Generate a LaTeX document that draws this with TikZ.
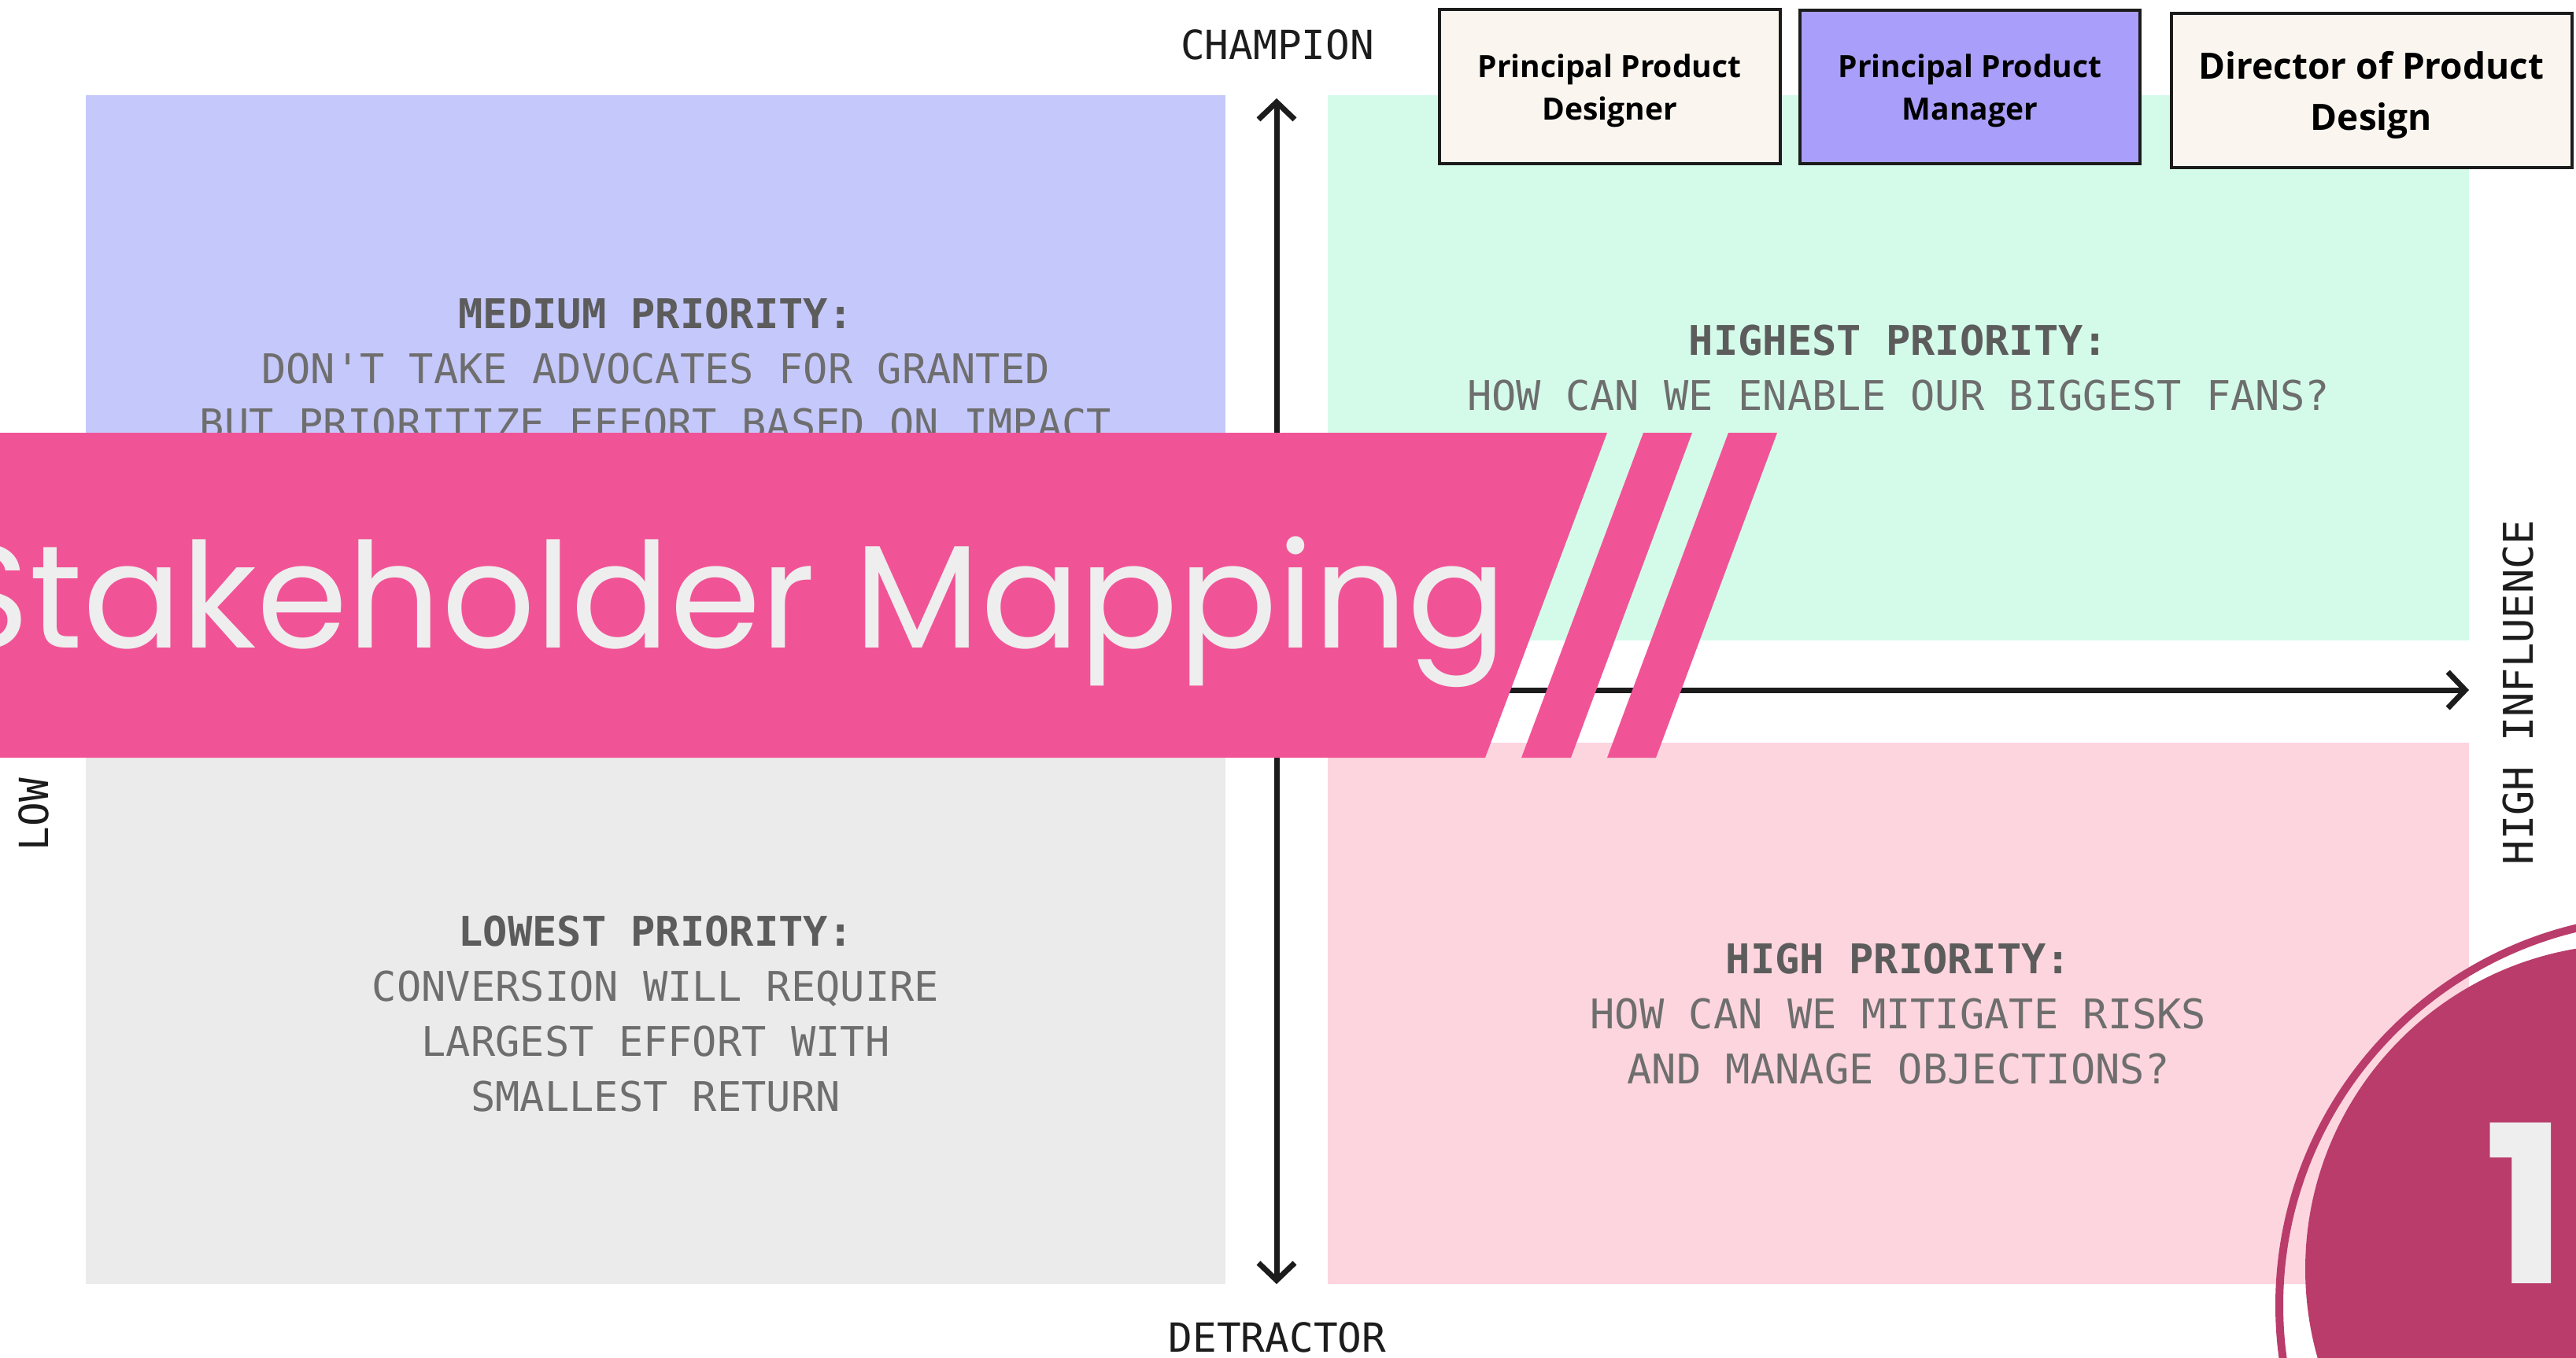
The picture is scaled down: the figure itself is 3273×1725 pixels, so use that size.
\documentclass[tikz,border=0pt]{standalone}
\usepackage{fontspec}
\setmainfont{DejaVu Sans}
\newfontfamily\monof{DejaVu Sans Mono}
\newfontfamily\titlef{Poppins}
\newfontfamily\boxf{Open Sans}
\usetikzlibrary{arrows.meta}
\definecolor{qblue}{HTML}{C5C8FA}
\definecolor{qgreen}{HTML}{D4FBEA}
\definecolor{qgrey}{HTML}{EBEBEB}
\definecolor{qpink}{HTML}{FDD5DE}
\definecolor{bannerpink}{HTML}{F15496}
\definecolor{titletext}{HTML}{EEEEEE}
\definecolor{circpink}{HTML}{B93C6B}
\definecolor{cream}{HTML}{FAF6EF}
\definecolor{lavender}{HTML}{A99EF9}
\definecolor{bodygray}{HTML}{6E6E6E}
\definecolor{headgray}{HTML}{5C5C5C}
\definecolor{inkdark}{HTML}{1C1C1C}
\begin{document}
\begin{tikzpicture}[x=1pt,y=-1pt,
  quadtext/.style={align=center, inner sep=0pt, text=bodygray,
    font=\monof\fontsize{52}{70}\selectfont},
  axislabel/.style={inner sep=0pt, text=inkdark,
    font=\monof\fontsize{51}{60}\selectfont},
  axisline/.style={line width=7pt, draw=inkdark,
    arrows={-Straight Barb[length=22pt,width=46pt]}},
  rolebox/.style={draw=inkdark, line width=4pt, inner sep=0pt},
  roletext/.style={align=center, inner sep=0pt, text=black},
]
\useasboundingbox (0,0) rectangle (3273,1725);
\clip (0,0) rectangle (3273,1725);
\fill[white] (0,0) rectangle (3273,1725);

% quadrants
\fill[qblue]  (109,121) rectangle (1557,814);
\fill[qgreen] (1687,121) rectangle (3137,814);
\fill[qgrey]  (109,944) rectangle (1557,1632);
\fill[qpink]  (1687,944) rectangle (3137,1632);

% axes
\coordinate (vtop) at (1622,125);
\coordinate (vbot) at (1622,1632);
\coordinate (hleft) at (109,877);
\coordinate (hright) at (3137,877);
\draw[axisline, arrows={Straight Barb[length=22pt,width=46pt]-Straight Barb[length=22pt,width=46pt]}] (vtop) -- (vbot);
\draw[axisline] (hleft) -- (hright);

% axis labels
\node[axislabel] (champ) at (1623,57) {CHAMPION};
\node[axislabel] (detr) at (1623,1700) {DETRACTOR};
\node[axislabel, rotate=90, font=\monof\fontsize{52}{60}\selectfont] (highinf) at (3200,880) {HIGH INFLUENCE};
\node[axislabel, rotate=90] (low) at (43,1035) {LOW};

% quadrant texts
\node[quadtext] (qmed) at (833,469)
  {{\bfseries\color{headgray}MEDIUM PRIORITY:}\\DON\textquotesingle T TAKE ADVOCATES FOR GRANTED\\BUT PRIORITIZE EFFORT BASED ON IMPACT};
\node[quadtext] (qhighest) at (2412,468)
  {{\bfseries\color{headgray}HIGHEST PRIORITY:}\\HOW CAN WE ENABLE OUR BIGGEST FANS?};
\node[quadtext] (qlowest) at (833,1289)
  {{\bfseries\color{headgray}LOWEST PRIORITY:}\\CONVERSION WILL REQUIRE\\LARGEST EFFORT WITH\\SMALLEST RETURN};
\node[quadtext] (qhigh) at (2412,1289)
  {{\bfseries\color{headgray}HIGH PRIORITY:}\\HOW CAN WE MITIGATE RISKS\\AND MANAGE OBJECTIONS?};

% banner
\fill[bannerpink] (0,550) -- (2042,550) -- (1887,963) -- (0,963) -- cycle;
\fill[bannerpink] (2088,550) -- (2150,550) -- (1996,963) -- (1933,963) -- cycle;
\fill[bannerpink] (2196,550) -- (2258,550) -- (2104,963) -- (2042,963) -- cycle;
\node[anchor=base east, inner sep=0pt, text=titletext,
  font=\titlef\fontsize{186}{186}\selectfont] (title) at (1914,823) {Stakeholder Mapping};

% role boxes
\node[rolebox, fill=cream, minimum width=433pt, minimum height=196pt] (ppd) at (2045,110) {};
\node[rolebox, fill=lavender, minimum width=432pt, minimum height=195pt] (ppm) at (2503,110) {};
\node[rolebox, fill=cream, minimum width=509pt, minimum height=196pt] (dpd) at (3013,115) {};
\node[roletext, font=\boxf\bfseries\fontsize{39}{54}\selectfont] (ppdtxt) at (2045,115) {Principal Product\\Designer};
\node[roletext, font=\boxf\bfseries\fontsize{39}{54}\selectfont] (ppmtxt) at (2503,115) {Principal Product\\Manager};
\node[roletext, font=\boxf\bfseries\fontsize{46}{65}\selectfont] (dpdtxt) at (3013,121) {Director of Product\\Design};

% number badge
\draw[circpink, line width=10pt] (3389,1659) circle[radius=493pt];
\fill[circpink] (3342,1613) circle[radius=413pt];
\node[inner sep=0pt, text=titletext, font=\titlef\bfseries\fontsize{280}{280}\selectfont] (num) at (3209,1529) {1};
\end{tikzpicture}
\end{document}
